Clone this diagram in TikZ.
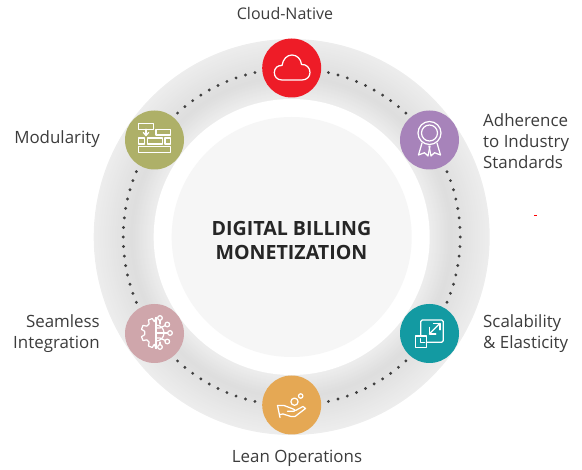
\documentclass[tikz,border=0pt]{standalone}
\usepackage{fontspec}
\setmainfont{Open Sans}
\definecolor{txt}{HTML}{3C3C3C}
\definecolor{cRed}{HTML}{EE1C27}
\definecolor{cPurple}{HTML}{A783BA}
\definecolor{cTeal}{HTML}{139AA2}
\definecolor{cOrange}{HTML}{E5A854}
\definecolor{cPink}{HTML}{CFA6AB}
\definecolor{cOlive}{HTML}{AEB068}
\tikzset{
  hub/.style={circle,minimum size=59pt,inner sep=0pt,fill=#1},
  lab/.style={text=txt,font=\fontsize{16.9}{21}\selectfont,inner sep=0pt,align=left},
  labr/.style={lab,align=right},
  ttl/.style={text=black!85,font=\fontsize{19.6}{24.5}\selectfont\bfseries,inner sep=0pt,align=center},
  ico/.style={draw=white,line width=1.25pt,line join=round,line cap=round},
  dotm/.style={fill=black!75}
}
\begin{document}
\begin{tikzpicture}[x=1pt,y=-1pt]
\useasboundingbox (0,0) rectangle (582,470);
\coordinate (c) at (291.7,237);
% ring
\foreach \r in {198,197,...,139}{
  \pgfmathsetmacro{\k}{\r>160 ? 7+6*(198-\r)/38 : 7+6*(\r-139)/21}
  \fill[black!\k!white] (c) circle (\r pt);
}
\fill[white] (c) circle (138pt);
\fill[black!3.5] (c) circle (120pt);
% dots
\foreach \a in {0,...,9}{
  \fill[dotm] ({291.7+168.5*cos(77.4-3.34*\a)},{237-168.5*sin(77.4-3.34*\a)}) circle (1.6pt);
  \fill[dotm] ({291.7+168.5*cos(102.6+3.34*\a)},{237-168.5*sin(102.6+3.34*\a)}) circle (1.6pt);
  \fill[dotm] ({291.7+168.5*cos(-77.4+3.34*\a)},{237-168.5*sin(-77.4+3.34*\a)}) circle (1.6pt);
  \fill[dotm] ({291.7+168.5*cos(-102.6-3.34*\a)},{237-168.5*sin(-102.6-3.34*\a)}) circle (1.6pt);
}
\foreach \a in {0,...,14}{
  \fill[dotm] ({291.7+168.5*cos(22.8-3.257*\a)},{237-168.5*sin(22.8-3.257*\a)}) circle (1.6pt);
  \fill[dotm] ({291.7-168.5*cos(22.8-3.257*\a)},{237-168.5*sin(22.8-3.257*\a)}) circle (1.6pt);
}
% hubs
\node[hub=cRed] (cloud) at (291.7,68) {};
\node[hub=cPurple] (std) at (429.5,140) {};
\node[hub=cTeal] (scale) at (429.5,333.5) {};
\node[hub=cOrange] (lean) at (291.7,405) {};
\node[hub=cPink] (integ) at (154.5,333.5) {};
\node[hub=cOlive] (mod) at (154.5,140) {};
% cloud icon
\draw[ico] (282,80) .. controls (277,80) and (274.3,76.5) .. (274.3,72.5)
  .. controls (274.3,68) and (278,65) .. (282,65.5)
  .. controls (283,59) and (287,55) .. (292,55)
  .. controls (297,55) and (301,59) .. (301.5,64.5)
  .. controls (306.5,64) and (310,68) .. (310,72.5)
  .. controls (310,76.5) and (307,80) .. (302,80) -- cycle;
% award icon
\draw[ico] (429.5,133) circle (11.5pt);
\draw[ico] (429.5,133) circle (8pt);
\draw[ico] (422,143) -- (418.5,155) -- (424.5,152.7) -- (428,156) -- (430,146);
\draw[ico] (437,143) -- (440.5,155) -- (434.5,152.7) -- (431,156) -- (429,146);
% scale icon
\draw[ico,rounded corners=1.5pt] (420.7,336) -- (420.7,320) -- (443.3,320) -- (443.3,342.3) -- (426.7,342.3);
\draw[ico] (415.3,336) rectangle (426.7,347.3);
\draw[ico] (420.7,338.7) -- (420.7,342.7) -- (424.7,342.7);
\draw[ico] (429.3,334) -- (440,323.3);
\draw[ico] (433.5,323.3) -- (440,323.3) -- (440,329.8);
\draw[ico] (429.3,327.5) -- (429.3,334) -- (435.8,334);
% hand icon
\draw[ico] (277.5,405.5) -- (280,417.5);
\draw[ico] (277.5,405.5) -- (284,405.5) -- (292,408.5) .. controls (295,409.5) and (296,411) .. (294,411.3) -- (287.5,411.3);
\draw[ico] (280,414.5) -- (283,414) -- (291,416.5) -- (295,416.5) -- (305.5,408.5) -- (303,406.5) -- (295.5,410.5);
\draw[ico] (294.5,401.7) circle (3.6pt);
\draw[ico] (300.7,396) circle (2.2pt);
% integration icon
\draw[ico] (156,317.5) \foreach \t in {112.5,157.5,202.5,247.5}{
    -- ({156+11.5*cos(\t-14)},{333-11.5*sin(\t-14)})
    -- ({156+15*cos(\t-8)},{333-15*sin(\t-8)})
    -- ({156+15*cos(\t+8)},{333-15*sin(\t+8)})
    -- ({156+11.5*cos(\t+14)},{333-11.5*sin(\t+14)})
  } -- (156,348.5);
\draw[ico] (156,325) arc[start angle=90,end angle=-90,radius=8pt];
\draw[ico] (156,317.5) -- (156,348.5);
\draw[ico] (170,333) circle (2.3pt) (167.3,324.5) circle (2.3pt) (160,318) circle (2.3pt) (167.3,341.5) circle (2.3pt) (160,347) circle (2.3pt);
\draw[ico] (156,333) -- (167.7,333);
\draw[ico] (156,328) -- (160,328) -- (165.2,325.5);
\draw[ico] (156,338) -- (160,338) -- (165.2,340.5);
\draw[ico] (160,320.3) -- (160,324);
\draw[ico] (160,344.7) -- (160,342);
% modularity icon
\draw[ico] (138.3,123.3) rectangle (153.3,129.3);
\draw[ico] (156,129.3) rectangle (170.7,135);
\draw[ico] (138.7,138) rectangle (144.3,144);
\draw[ico] (147.3,138) rectangle (162.3,144);
\draw[ico] (165,138) rectangle (170.7,144);
\draw[ico] (138.7,146.7) rectangle (170.7,152.7);
\draw[ico] (146,129.3) -- (146,135);
\draw[ico] (143.3,132.5) -- (146,135.5) -- (148.7,132.5);
% labels
\node[lab,anchor=base,font=\fontsize{16}{21}\selectfont] (tCloud) at (285,20) {Cloud-Native};
\node[lab,anchor=west] (tStd) at (483,141) {Adherence\\to Industry\\Standards};
\node[labr,anchor=base east] (tMod) at (100,144) {Modularity};
\node[labr,anchor=east] (tInt) at (100,334) {Seamless\\Integration};
\node[lab,anchor=west] (tScale) at (483,334) {Scalability\\\& Elasticity};
\node[lab,anchor=base] (tLean) at (297,463) {Lean Operations};
\node[ttl] (title) at (291.5,240.5) {DIGITAL BILLING\\MONETIZATION};
\fill[red] (534,214.6) rectangle (536.5,215.6);
\end{tikzpicture}
\end{document}
